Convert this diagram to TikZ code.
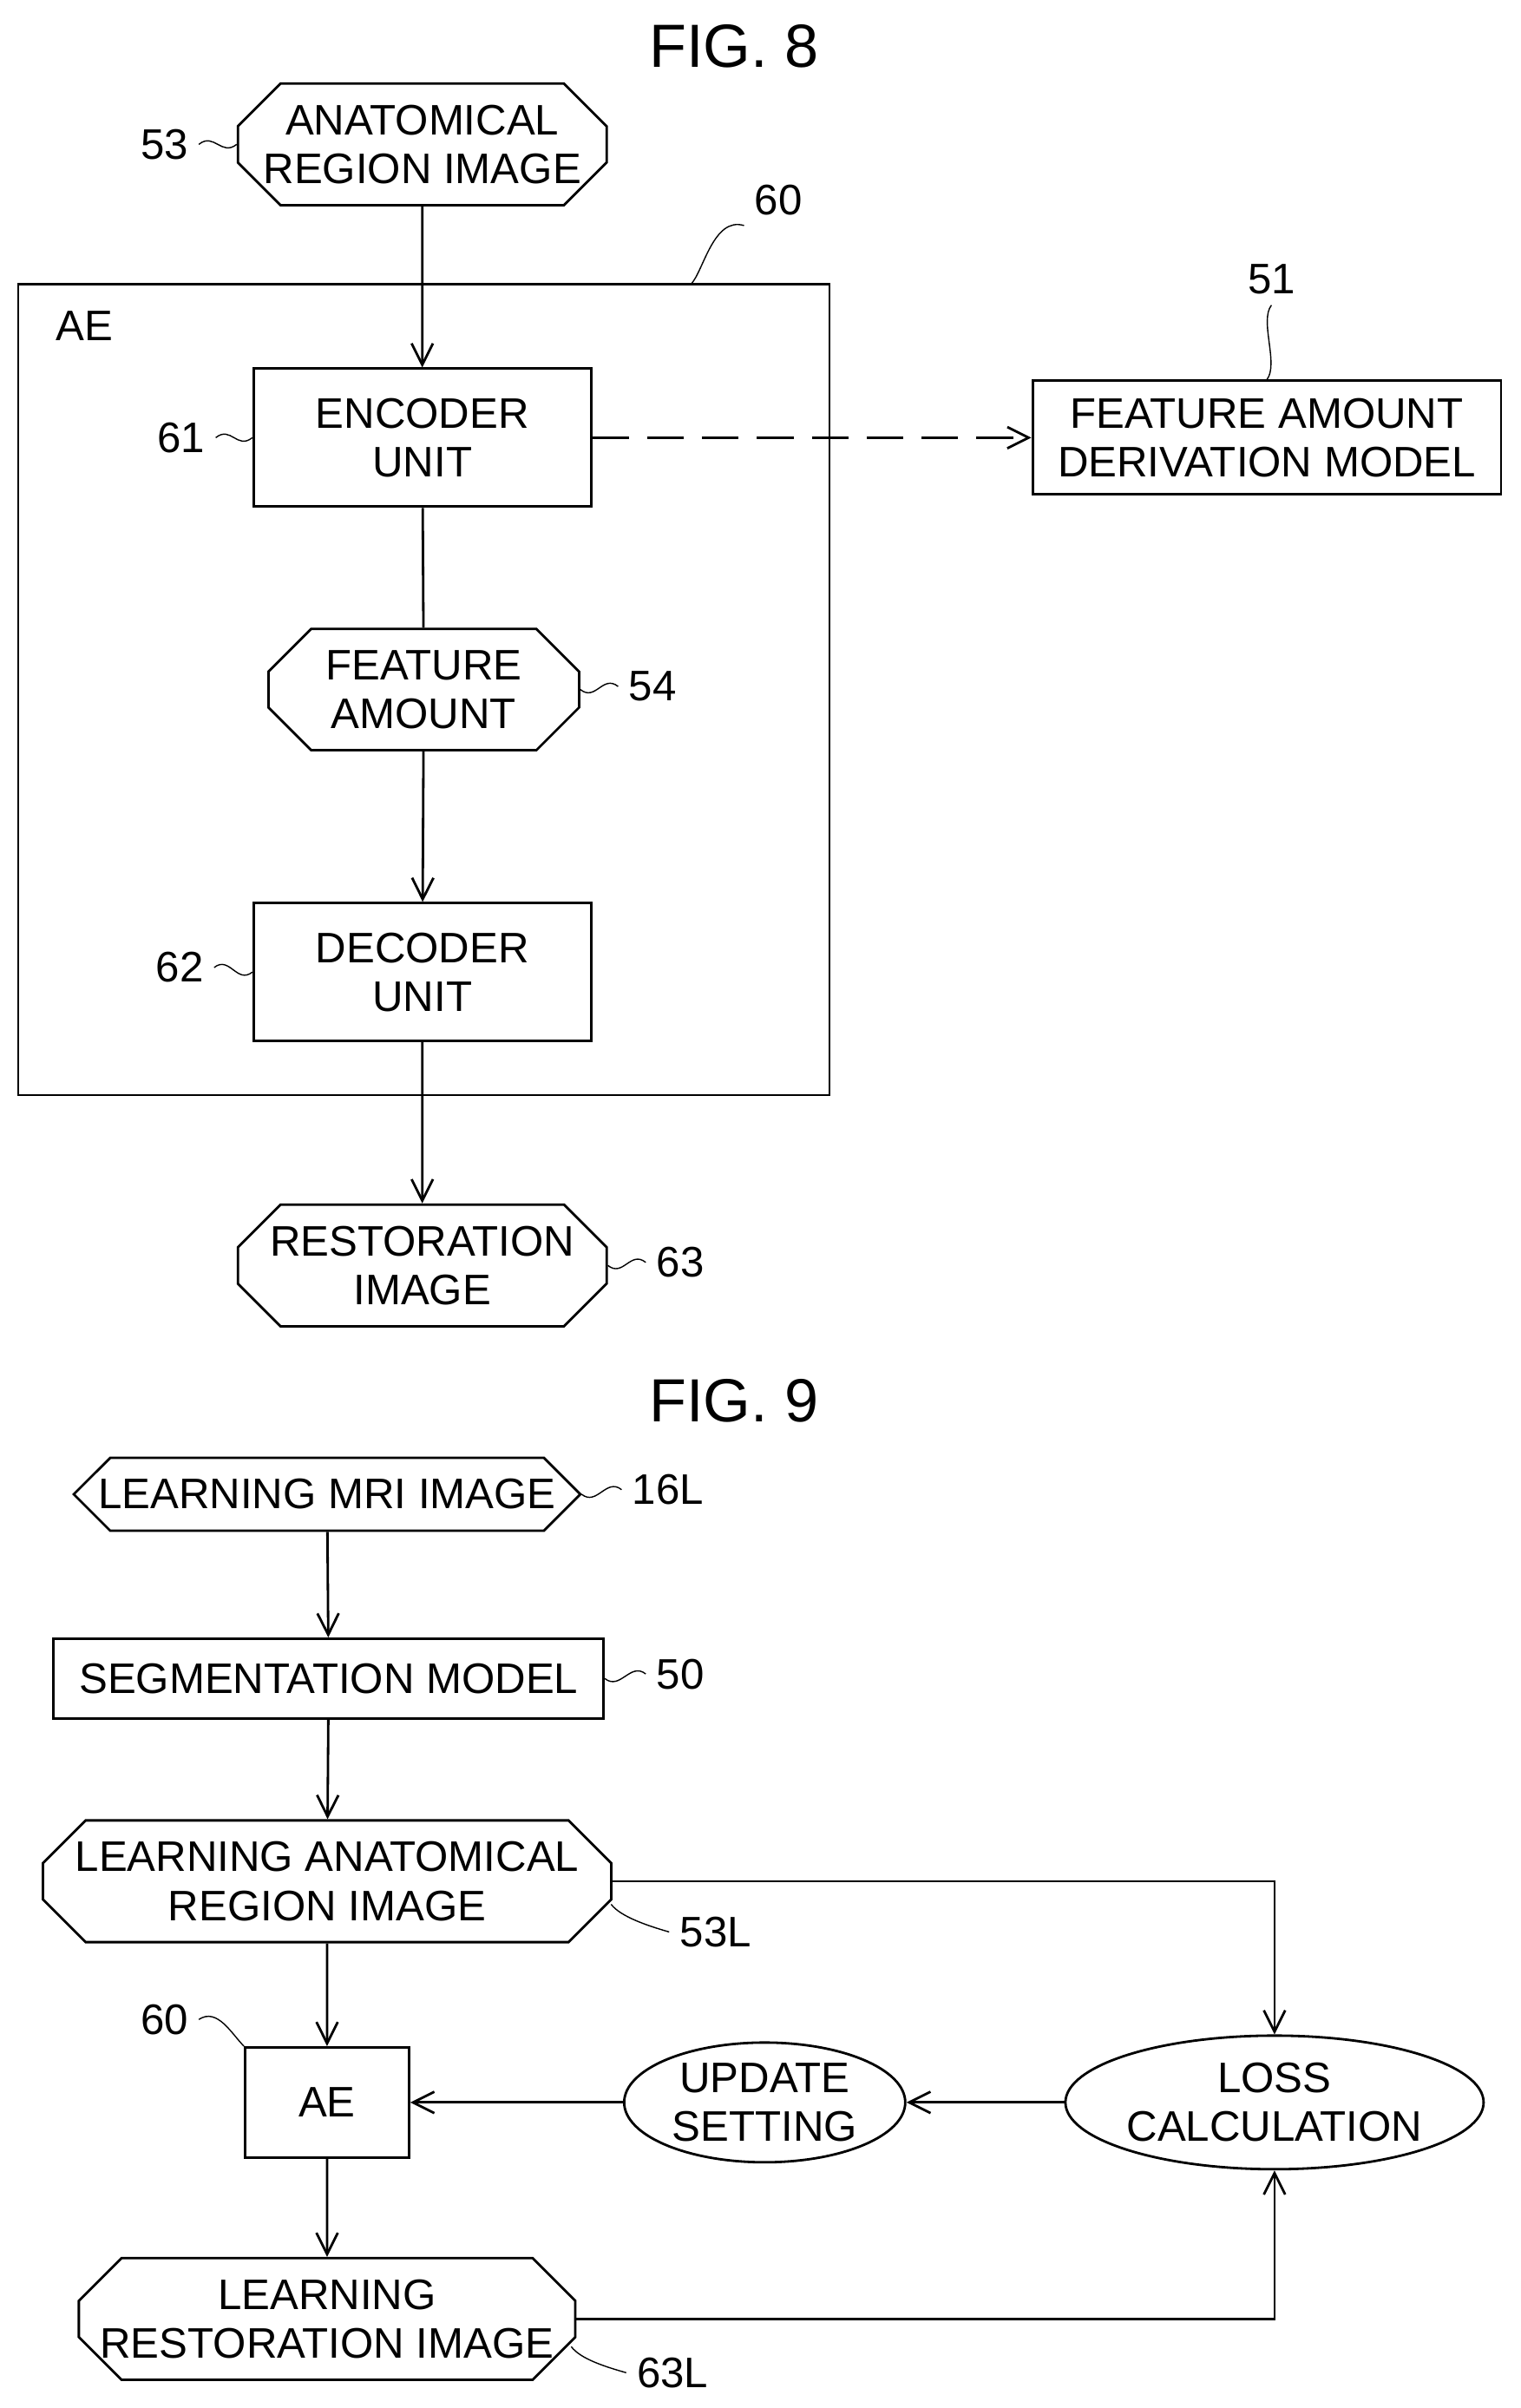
\documentclass[tikz,border=0pt]{standalone}
\usepackage{fontspec}
\setmainfont{Liberation Sans}
\usetikzlibrary{arrows.meta,shapes.misc,shapes.geometric}

\tikzset{
  box/.style={draw,thick,align=center,inner sep=0pt,font=\fontsize{14}{16}\selectfont},
  term/.style={box,chamfered rectangle,chamfered rectangle xsep=7pt,chamfered rectangle ysep=7pt},
  oval/.style={box,ellipse},
  lab/.style={font=\fontsize{14}{16}\selectfont},
  arr/.style={thick,-{Straight Barb[length=7pt,width=7pt]}},
  tilde/.style={thin}
}

\begin{document}
\begin{tikzpicture}[x=0.0177cm,y=-0.0177cm]
          \useasboundingbox (0,0) rectangle (990,1568);
          % FIG. 8
          \node[lab,font=\fontsize{20}{22}\selectfont] (fig8) at (478,30) {FIG. 8};
          \node[term,minimum width=4.25cm,minimum height=1.27cm] (arimg) at (275,94) {ANATOMICAL\\REGION IMAGE};
          \node[draw,thick,minimum width=9.35cm,minimum height=9.35cm,inner sep=0pt] (ae) at (276,449) {};
          \node[lab] (aelab) at (55,212) {AE};
          \node[box,minimum width=3.89cm,minimum height=1.59cm] (enc) at (275,285) {ENCODER\\UNIT};
          \node[box,minimum width=5.4cm,minimum height=1.31cm] (fadm) at (825,285) {FEATURE AMOUNT\\DERIVATION MODEL};
          \node[term,minimum width=3.58cm,minimum height=1.33cm] (feat) at (276,449) {FEATURE\\AMOUNT};
          \node[box,minimum width=3.89cm,minimum height=1.59cm] (dec) at (275,633) {DECODER\\UNIT};
          \node[term,minimum width=4.25cm,minimum height=1.33cm] (rest) at (275,824) {RESTORATION\\IMAGE};
          \draw[arr] (arimg) -- (enc);
          \draw[thick] (enc) -- (feat);
          \draw[arr] (feat) -- (dec);
          \draw[arr] (dec) -- (rest);
          \draw[arr,dash pattern=on 12pt off 6pt] (enc) -- (fadm);
          % reference numerals
          \node[lab] (n53) at (107,94) {53};
          \node[lab] (n60) at (507,130) {60};
          \node[lab] (n51) at (828,182) {51};
          \node[lab] (n61) at (118,285) {61};
          \node[lab] (n54) at (425,447) {54};
          \node[lab] (n62) at (117,630) {62};
          \node[lab] (n63) at (443,822) {63};
          \draw[tilde] (n53.east) .. controls +(10,-8) and +(-10,8) .. (arimg.west);
          \draw[tilde] (n60.south west) .. controls +(-20,-6) and +(8,-8) .. (450,185);
          \draw[tilde] (n51.south) .. controls +(-8,10) and +(8,-10) .. (fadm.north);
          \draw[tilde] (n61.east) .. controls +(10,-8) and +(-10,8) .. (enc.west);
          \draw[tilde] (n54.west) .. controls +(-10,-8) and +(10,8) .. (feat.east);
          \draw[tilde] (n62.east) .. controls +(10,-8) and +(-10,8) .. (dec.west);
          \draw[tilde] (n63.west) .. controls +(-10,-8) and +(10,8) .. (rest.east);
          % FIG. 9
          \node[lab,font=\fontsize{20}{22}\selectfont] (fig9) at (478,912) {FIG. 9};
          \node[term,minimum width=5.84cm,minimum height=0.83cm] (mri) at (213,973) {LEARNING MRI IMAGE};
          \node[box,minimum width=6.34cm,minimum height=0.92cm] (seg) at (214,1093) {SEGMENTATION MODEL};
          \node[term,minimum width=6.55cm,minimum height=1.31cm] (lar) at (213,1225) {LEARNING ANATOMICAL\\REGION IMAGE};
          \node[box,minimum width=1.89cm,minimum height=1.27cm] (ae2) at (213,1369) {AE};
          \node[oval,minimum width=3.24cm,minimum height=1.38cm] (upd) at (498,1369) {UPDATE\\SETTING};
          \node[oval,minimum width=4.19cm,minimum height=1.54cm] (loss) at (830,1369) {LOSS\\CALCULATION};
          \node[term,minimum width=5.61cm,minimum height=1.31cm] (lrest) at (213,1510) {LEARNING\\RESTORATION IMAGE};
          \draw[arr] (mri) -- (seg);
          \draw[arr] (seg) -- (lar);
          \draw[arr] (lar) -- (ae2);
          \draw[arr] (ae2) -- (lrest);
          \draw[arr] (lar.east) -| (loss.north);
          \draw[arr] (lrest.east) -| (loss.south);
          \draw[arr] (loss) -- (upd);
          \draw[arr] (upd) -- (ae2);
          \node[lab] (n16l) at (435,970) {16L};
          \node[lab] (n50) at (443,1090) {50};
          \node[lab] (n53l) at (466,1258) {53L};
          \node[lab] (n60b) at (107,1315) {60};
          \node[lab] (n63l) at (438,1545) {63L};
          \draw[tilde] (n16l.west) .. controls +(-10,-8) and +(10,8) .. (mri.east);
          \draw[tilde] (n50.west) .. controls +(-10,-8) and +(10,8) .. (seg.east);
          \draw[tilde] (n53l.west) .. controls +(-14,-4) and +(6,8) .. (398,1240);
          \draw[tilde] (n60b.east) .. controls +(12,-8) and +(-8,-8) .. (ae2.north west);
          \draw[tilde] (n63l.west) .. controls +(-14,-4) and +(6,8) .. (372,1528);
\end{tikzpicture}
\end{document}
